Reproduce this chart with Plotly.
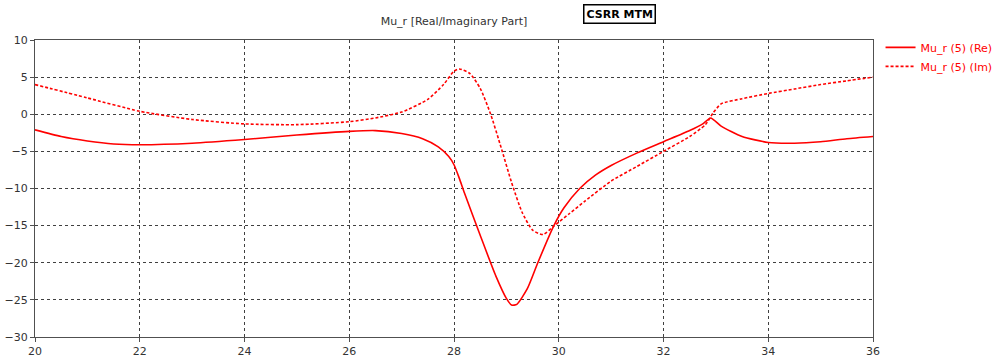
import plotly.graph_objects as go

# Frequency sweep (GHz) and relative permeability components
freq_re = [20, 20.5, 21, 21.5, 22, 23, 24, 25, 26, 26.5, 27, 27.4, 27.7, 27.9, 28, 28.1, 28.2,
           28.5, 28.8, 29, 29.1, 29.2, 29.4, 29.6, 29.9, 30.1, 30.4, 30.7, 31, 31.5, 32, 32.5,
           32.75, 32.9, 33.1, 33.5, 34, 34.5, 35, 35.5, 36]
mu_re = [-2.1, -3.0, -3.6, -4.0, -4.1, -3.9, -3.4, -2.8, -2.3, -2.2, -2.6, -3.3, -4.4, -5.7,
         -6.8, -8.6, -10.6, -16.3, -21.8, -24.8, -25.7, -25.6, -23.5, -20.0, -15.1, -12.6,
         -10.0, -8.2, -6.9, -5.2, -3.7, -2.2, -1.3, -0.5, -1.6, -3.0, -3.8, -3.9, -3.7, -3.3,
         -3.0]

freq_im = [20, 21, 22, 23, 24, 25, 26, 26.5, 27, 27.5, 27.8, 28, 28.1, 28.3, 28.5, 28.7, 28.9,
           29.1, 29.3, 29.5, 29.7, 29.9, 30.2, 30.5, 31, 31.5, 32, 32.5, 32.8, 32.95, 33.1, 33.5,
           34, 34.5, 35, 35.5, 36]
mu_im = [4.0, 2.2, 0.4, -0.7, -1.3, -1.4, -1.0, -0.5, 0.3, 2.0, 4.0, 5.8, 6.1, 5.5, 3.5, 0.0,
         -4.5, -9.2, -13.2, -15.6, -16.2, -15.1, -13.4, -11.7, -9.0, -7.0, -5.0, -3.0, -1.4,
         0.2, 1.4, 2.1, 2.8, 3.4, 4.0, 4.5, 5.0]

x_ticks = [20, 22, 24, 26, 28, 30, 32, 34, 36]
y_ticks = [10, 5, 0, -5, -10, -15, -20, -25, -30]

red = "#ff0000"
font = "DejaVu Sans"

fig = go.Figure()
fig.add_trace(go.Scatter(x=freq_re, y=mu_re, mode="lines", name="Mu_r (5) (Re)",
                         line=dict(color=red, width=1.6, shape="spline", smoothing=0.6)))
fig.add_trace(go.Scatter(x=freq_im, y=mu_im, mode="lines", name="Mu_r (5) (Im)",
                         line=dict(color=red, width=1.6, dash="3px,2px", shape="spline",
                                   smoothing=0.6)))

axis_common = dict(showline=True, linecolor="#505050", linewidth=1, mirror=True,
                   showgrid=True, gridcolor="#404040", griddash="3px,3px", gridwidth=1,
                   ticks="outside", ticklen=4, tickcolor="#505050", zeroline=False,
                   tickfont=dict(family=font, size=11, color="#333333"))

fig.update_xaxes(range=[20, 36], tickvals=x_ticks, **axis_common)
fig.update_yaxes(range=[-30, 10], tickvals=y_ticks, **axis_common)

fig.update_layout(
    width=1000, height=363,
    margin=dict(l=35, r=127, t=40, b=26, autoexpand=False),
    paper_bgcolor="white", plot_bgcolor="white",
    font=dict(family=font, size=11, color="#333333"),
    title=dict(text="Mu_r [Real/Imaginary Part]", x=0.5, xanchor="center",
               y=1 - 21 / 363, yanchor="middle", xref="paper", yref="container",
               font=dict(family=font, size=11, color="#333333")),
    showlegend=True,
    legend=dict(x=1.009, y=1.024, xanchor="left", yanchor="top", bgcolor="rgba(0,0,0,0)",
                font=dict(family=font, size=11, color=red), tracegroupgap=0,
                itemwidth=30),
    annotations=[dict(text="<b>CSRR MTM</b>", xref="paper", yref="paper",
                      x=0.697, y=1.089, xanchor="center", yanchor="middle", showarrow=False,
                      font=dict(family=font, size=11, color="black"),
                      bordercolor="black", borderwidth=1.5, borderpad=2,
                      bgcolor="white")],
)

fig.write_html("out.html")
